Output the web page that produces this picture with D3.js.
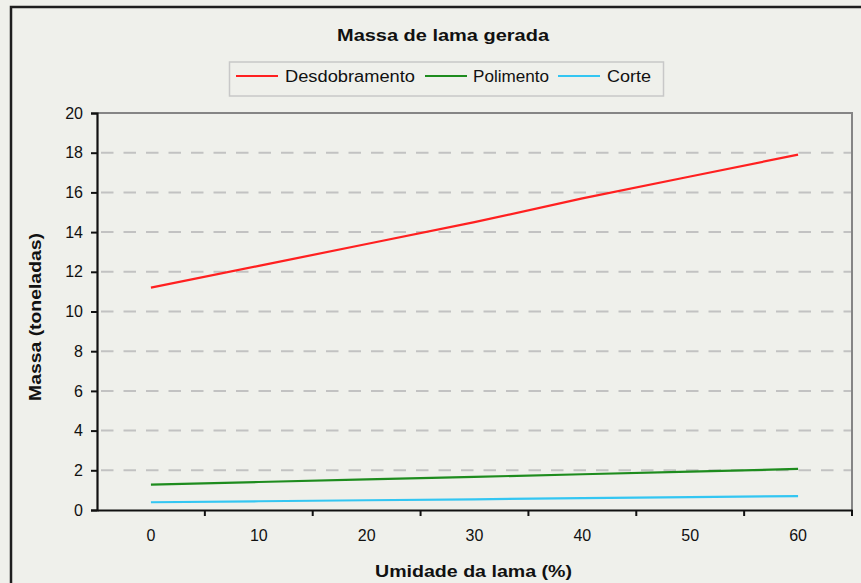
<!DOCTYPE html>
<html>
<head>
<meta charset="utf-8">
<script src="https://cdn.jsdelivr.net/npm/d3@7"></script>
<style>
  html, body { margin: 0; padding: 0; background: #eff0eb; }
  svg { display: block; font-family: "Liberation Sans", Arial, sans-serif; }
</style>
</head>
<body>
<svg id="chart" width="861" height="583"></svg>
<script>
// Umidade da lama (%) categories
const categories = ["0", "10", "20", "30", "40", "50", "60"];
// Massa (toneladas) per series
const desdobramento = [11.2, 12.3, 13.4, 14.5, 15.7, 16.8, 17.9];
const polimento = [1.28, 1.41, 1.54, 1.67, 1.80, 1.93, 2.07];
const corte = [0.39, 0.44, 0.49, 0.54, 0.60, 0.65, 0.70];
const yTicks = [0, 2, 4, 6, 8, 10, 12, 14, 16, 18, 20];
const seriesNames = ["Desdobramento", "Polimento", "Corte"];
const seriesColors = ["#ff2020", "#1e8c1e", "#33c6f2"];

const series = [desdobramento, polimento, corte].map((values, i) => ({
  name: seriesNames[i], color: seriesColors[i], values
}));

const svg = d3.select("#chart");
const plot = { left: 97, right: 852, top: 113, bottom: 510 };

// outer frame
svg.append("rect")
  .attr("x", 11).attr("y", 7).attr("width", 900).attr("height", 620)
  .attr("fill", "#eff0eb").attr("stroke", "#1e1e1e").attr("stroke-width", 2.5);

const x = d3.scaleBand().domain(categories).range([plot.left, plot.right]).padding(0);
const y = d3.scaleLinear().domain([0, 20]).range([plot.bottom, plot.top]);

// horizontal dashed gridlines
svg.append("g").selectAll("line")
  .data(yTicks.filter(v => v > 0 && v < 20))
  .join("line")
  .attr("x1", plot.left).attr("x2", plot.right)
  .attr("y1", d => y(d)).attr("y2", d => y(d))
  .attr("stroke", "#c2c2c2").attr("stroke-width", 2)
  .attr("stroke-dasharray", "12.5,10").attr("stroke-dashoffset", -4);

// plot frame (top and right)
svg.append("path")
  .attr("d", `M${plot.left},${plot.top}H${plot.right}V${plot.bottom}`)
  .attr("fill", "none").attr("stroke", "#858585").attr("stroke-width", 2);

// series lines
const line = d3.line()
  .x((d, i) => x(categories[i]) + x.bandwidth() / 2)
  .y(d => y(d));

svg.append("g").selectAll("path")
  .data(series)
  .join("path")
  .attr("d", d => line(d.values))
  .attr("fill", "none")
  .attr("stroke", d => d.color)
  .attr("stroke-width", 2.2);

// y axis
const yAxis = svg.append("g")
  .attr("transform", `translate(${plot.left},0)`)
  .call(d3.axisLeft(y).tickValues(yTicks).tickSize(6).tickPadding(8).tickFormat(d3.format("d")));
yAxis.select(".domain").attr("stroke", "#111").attr("stroke-width", 2.2);
yAxis.selectAll(".tick line").attr("stroke", "#111").attr("stroke-width", 2);
yAxis.selectAll("text").attr("font-size", 16).attr("fill", "#111");

// x axis: tick marks on band edges, labels at band centres
const xAxis = svg.append("g")
  .attr("transform", `translate(0,${plot.bottom})`)
  .call(d3.axisBottom(x).tickSize(0).tickPadding(20));
xAxis.select(".domain").attr("stroke", "#111").attr("stroke-width", 2.2);
xAxis.selectAll("text").attr("font-size", 16).attr("fill", "#111");
xAxis.append("g").selectAll("line")
  .data(categories.slice(1).concat(["end"]))
  .join("line")
  .attr("x1", (d, i) => plot.left + x.bandwidth() * (i + 1))
  .attr("x2", (d, i) => plot.left + x.bandwidth() * (i + 1))
  .attr("y1", 0).attr("y2", 6)
  .attr("stroke", "#111").attr("stroke-width", 2);

// title
svg.append("text")
  .attr("x", 337).attr("y", 41)
  .attr("textLength", 212).attr("lengthAdjust", "spacingAndGlyphs")
  .attr("font-size", 16).attr("font-weight", "bold").attr("fill", "#111")
  .text("Massa de lama gerada");

// axis titles
svg.append("text")
  .attr("x", 375).attr("y", 577)
  .attr("textLength", 197).attr("lengthAdjust", "spacingAndGlyphs")
  .attr("font-size", 16).attr("font-weight", "bold").attr("fill", "#111")
  .text("Umidade da lama (%)");

svg.append("text")
  .attr("transform", "translate(41,401) rotate(-90)")
  .attr("textLength", 168).attr("lengthAdjust", "spacingAndGlyphs")
  .attr("font-size", 16).attr("font-weight", "bold").attr("fill", "#111")
  .text("Massa (toneladas)");

// legend
const legend = svg.append("g");
legend.append("rect")
  .attr("x", 229.5).attr("y", 62).attr("width", 434).attr("height", 34)
  .attr("fill", "#eff0eb").attr("stroke", "#c8c8c8").attr("stroke-width", 1.5);
const legendItems = [
  { x: 236, tx: 285, tw: 130 },
  { x: 425, tx: 473, tw: 76 },
  { x: 558, tx: 607, tw: 44 }
];
series.forEach((s, i) => {
  const it = legendItems[i];
  legend.append("line")
    .attr("x1", it.x).attr("x2", it.x + 42)
    .attr("y1", 76).attr("y2", 76)
    .attr("stroke", s.color).attr("stroke-width", 2.2);
  legend.append("text")
    .attr("x", it.tx).attr("y", 82)
    .attr("textLength", it.tw).attr("lengthAdjust", "spacingAndGlyphs")
    .attr("font-size", 16).attr("fill", "#111")
    .text(s.name);
});
</script>
</body>
</html>
